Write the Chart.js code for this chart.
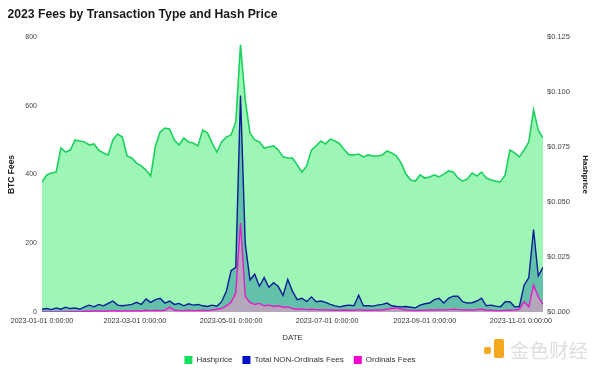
<!DOCTYPE html>
<html>
<head>
<meta charset="UTF-8">
<title>2023 Fees by Transaction Type and Hash Price</title>
<script src="https://cdn.jsdelivr.net/npm/chart.js@4.4.1/dist/chart.umd.min.js"></script>
<style>
  body { margin: 0; background: #fff; }
  #wrap { position: relative; width: 600px; height: 370px; }
  #marca { position: absolute; left: 482px; top: 336px; height: 26px; }
  #marca .ponto { position: absolute; left: 2px; top: 11px; width: 7px; height: 7px; border-radius: 2px; background: #f4a81d; }
  #marca .bloco { position: absolute; left: 12px; top: 3px; width: 10px; height: 19px; border-radius: 2px; background: #f4a81d; }
  #marca .texto { position: absolute; left: 28px; top: -1px; font: 19.5px "Noto Sans CJK SC", sans-serif; color: #dedede; white-space: nowrap; }
</style>
</head>
<body>
<div id="wrap">
  <canvas id="myChart" width="600" height="370"></canvas>
  <div id="marca"><div class="ponto"></div><div class="bloco"></div><div class="texto">金色财经</div></div>
</div>

<script>
  const chartTitle = '2023 Fees by Transaction Type and Hash Price';

  // dias desde 2023-01-01
  const days = [0, 3, 6, 9, 12, 15, 18, 21, 24, 27, 30, 33, 36, 39, 42, 45, 48, 51, 54, 57,
    60, 63, 66, 69, 72, 75, 78, 81, 84, 87, 90, 93, 96, 99, 102, 105, 108, 111, 114, 117,
    120, 123, 126, 129, 132, 135, 138, 141, 144, 147, 150, 153, 156, 159, 162, 165, 168, 171, 174, 177,
    180, 183, 186, 189, 192, 195, 198, 201, 204, 207, 210, 213, 216, 219, 222, 225, 228, 231, 234, 237,
    240, 243, 246, 249, 252, 255, 258, 261, 264, 267, 270, 273, 276, 279, 282, 285, 288, 291, 294, 297,
    300, 303, 306, 309, 312, 315, 318];

  // Hashprice em USD
  const hashprice = [0.0591, 0.0623, 0.0632, 0.0636, 0.0745, 0.0727, 0.0736, 0.0782, 0.0777, 0.0773,
    0.0759, 0.0764, 0.0736, 0.0723, 0.0714, 0.0782, 0.0809, 0.0795, 0.0709, 0.0700,
    0.0677, 0.0664, 0.0645, 0.0618, 0.0755, 0.0818, 0.0836, 0.0832, 0.0782, 0.0759,
    0.0791, 0.0773, 0.0768, 0.0755, 0.0827, 0.0814, 0.0768, 0.0727, 0.0773, 0.0795,
    0.0805, 0.0864, 0.1214, 0.0964, 0.0814, 0.0782, 0.0773, 0.0745, 0.0750, 0.0755,
    0.0736, 0.0705, 0.0700, 0.0700, 0.0668, 0.0636, 0.0664, 0.0736, 0.0755, 0.0777,
    0.0764, 0.0786, 0.0777, 0.0764, 0.0736, 0.0714, 0.0714, 0.0718, 0.0705, 0.0714,
    0.0709, 0.0709, 0.0714, 0.0732, 0.0723, 0.0709, 0.0677, 0.0627, 0.0600, 0.0595,
    0.0623, 0.0609, 0.0614, 0.0623, 0.0614, 0.0627, 0.0641, 0.0636, 0.0609, 0.0595,
    0.0605, 0.0632, 0.0618, 0.0636, 0.0609, 0.0600, 0.0595, 0.0591, 0.0623, 0.0736,
    0.0723, 0.0705, 0.0736, 0.0773, 0.0918, 0.0827, 0.0791];

  // taxas em BTC
  const nonOrdinalsFees = [8, 10, 7, 12, 8, 14, 10, 12, 8, 15,
    20, 15, 22, 18, 25, 32, 20, 18, 20, 22,
    28, 22, 38, 28, 36, 40, 26, 32, 22, 25,
    18, 24, 20, 22, 18, 16, 20, 17, 30, 60,
    120, 130, 630, 200, 93, 110, 75, 100, 72, 85,
    74, 48, 95, 60, 36, 40, 30, 44, 30, 32,
    28, 22, 18, 15, 18, 20, 18, 49, 18, 18,
    17, 20, 22, 26, 18, 16, 15, 16, 14, 12,
    20, 24, 26, 36, 40, 26, 40, 46, 46, 30,
    26, 27, 32, 40, 18, 20, 17, 15, 30, 30,
    15, 16, 78, 100, 240, 105, 130];

  const ordinalsFees = [0, 0, 0, 0, 0, 0, 1, 1, 1, 2,
    2, 3, 3, 2, 3, 4, 3, 3, 4, 3,
    4, 3, 5, 4, 5, 4, 5, 14, 5, 4,
    4, 5, 4, 4, 5, 4, 6, 8, 10, 18,
    28, 55, 259, 45, 28, 22, 25, 18, 20, 16,
    18, 14, 15, 10, 8, 9, 7, 8, 7, 6,
    7, 6, 5, 5, 6, 5, 5, 7, 5, 5,
    5, 6, 6, 8, 10, 12, 8, 6, 5, 4,
    5, 5, 6, 6, 7, 6, 7, 8, 7, 6,
    6, 5, 7, 8, 5, 5, 4, 4, 5, 5,
    6, 8, 30, 15, 78, 44, 22];

  const tickDays = [0, 59, 120, 181, 243, 304];
  const tickLabels = ['2023-01-01 0:00:00', '2023-03-01 0:00:00', '2023-05-01 0:00:00',
    '2023-07-01 0:00:00', '2023-09-01 0:00:00', '2023-11-01 0:00:00'];

  const pontos = (vals) => days.map((d, i) => ({ x: d, y: vals[i] }));

  Chart.defaults.font.family = '"Liberation Sans", Arial, sans-serif';
  Chart.defaults.color = '#444';

  // titulo desenhado na posicao exata
  const tituloPlugin = {
    id: 'tituloFixo',
    afterDraw(chart) {
      const c = chart.ctx;
      c.save();
      c.font = 'bold 12.2px "Liberation Sans", Arial, sans-serif';
      c.fillStyle = '#1a1a1a';
      c.textBaseline = 'alphabetic';
      c.fillText(chartTitle, 7.5, 18.3);
      c.restore();
    }
  };

  // altura fixa da legenda
  const legendaPlugin = {
    id: 'alturaLegenda',
    afterInit(chart) {
      const fit = chart.legend.fit;
      chart.legend.fit = function () {
        fit.bind(chart.legend)();
        this.height = 24;
      };
    }
  };

  const ctx = document.getElementById('myChart').getContext('2d');
  new Chart(ctx, {
    type: 'line',
    data: {
      datasets: [
        {
          label: 'Hashprice',
          data: pontos(hashprice),
          yAxisID: 'y1',
          borderColor: '#1bd25e',
          backgroundColor: '#9df6b5',
          legendColor: '#19e05a',
          borderWidth: 1.6,
          fill: 'origin',
          pointRadius: 0,
          order: 3
        },
        {
          label: 'Total NON-Ordinals Fees',
          data: pontos(nonOrdinalsFees),
          yAxisID: 'y',
          borderColor: '#0a1d96',
          backgroundColor: 'rgba(10, 115, 150, 0.4)',
          legendColor: '#0010c8',
          borderWidth: 1.4,
          fill: 'origin',
          pointRadius: 0,
          order: 2
        },
        {
          label: 'Ordinals Fees',
          data: pontos(ordinalsFees),
          yAxisID: 'y',
          borderColor: '#e21ccb',
          backgroundColor: 'rgba(235, 150, 200, 0.6)',
          legendColor: '#f200d8',
          borderWidth: 1.4,
          fill: 'origin',
          pointRadius: 0,
          order: 1
        }
      ]
    },
    options: {
      responsive: false,
      animation: false,
      layout: { padding: { top: 37, left: 0, right: 0, bottom: 0 } },
      plugins: {
        tooltip: { enabled: false },
        legend: {
          position: 'bottom',
          labels: {
            boxWidth: 8,
            boxHeight: 8,
            padding: 10,
            color: '#333',
            font: { size: 8 },
            sort: (a, b) => a.datasetIndex - b.datasetIndex,
            generateLabels(chart) {
              const itens = Chart.defaults.plugins.legend.labels.generateLabels(chart);
              itens.forEach(it => {
                const cor = chart.data.datasets[it.datasetIndex].legendColor;
                it.fillStyle = cor;
                it.strokeStyle = cor;
                it.lineWidth = 0;
              });
              return itens;
            }
          }
        }
      },
      scales: {
        x: {
          type: 'linear',
          min: 0,
          max: 318,
          grid: { display: false, drawTicks: false },
          border: { display: false },
          afterBuildTicks: (scale) => { scale.ticks = tickDays.map(v => ({ value: v })); },
          afterFit: (scale) => { scale.height = 34; },
          ticks: {
            autoSkip: false,
            maxRotation: 0,
            padding: 5,
            color: '#333',
            font: { size: 7.2 },
            callback: (v) => tickLabels[tickDays.indexOf(v)]
          },
          title: { display: true, text: 'DATE', color: '#333', font: { size: 8 }, padding: { top: 0, bottom: 3 } }
        },
        y: {
          position: 'left',
          min: 0,
          max: 800,
          grid: { display: false, drawTicks: false },
          border: { display: false },
          afterFit: (scale) => { scale.width = 42; },
          ticks: { stepSize: 200, padding: 5, color: '#444', font: { size: 7 } },
          title: { display: true, text: 'BTC Fees', color: '#222', font: { size: 8.5, weight: 'bold' }, padding: { top: 7, bottom: 0 } }
        },
        y1: {
          position: 'right',
          min: 0,
          max: 0.125,
          grid: { display: false, drawTicks: false },
          border: { display: false },
          afterFit: (scale) => { scale.width = 57; },
          ticks: {
            stepSize: 0.025,
            padding: 4,
            color: '#444',
            font: { size: 7.5 },
            callback: (v) => '$' + v.toFixed(3)
          },
          title: { display: true, text: 'Hashprice', color: '#222', font: { size: 8, weight: 'bold' }, padding: { top: 10, bottom: 0 } }
        }
      }
    },
    plugins: [tituloPlugin, legendaPlugin]
  });
</script>
</body>
</html>
